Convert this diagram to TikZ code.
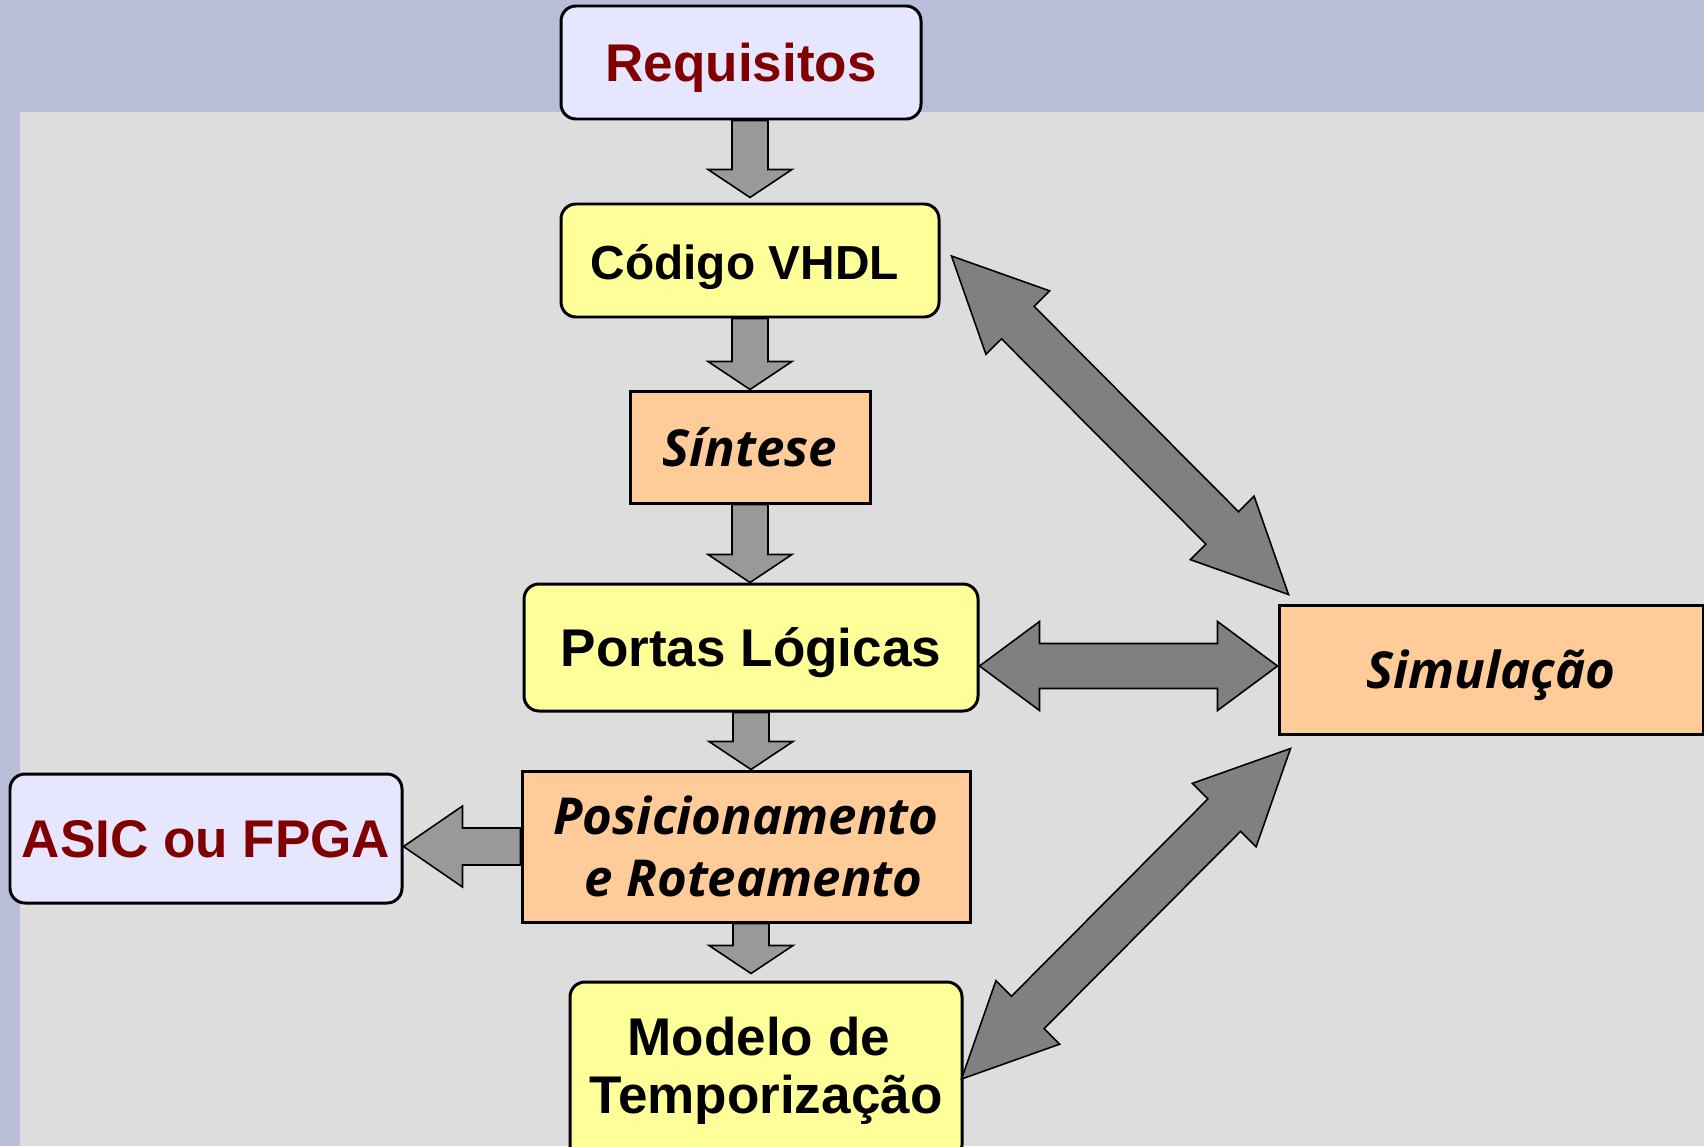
\documentclass[tikz,border=0pt]{standalone}
\usepackage{fontspec}
\setmainfont{Liberation Sans}
\newfontfamily\itsans{Open Sans}
\usetikzlibrary{calc}

\definecolor{band}{HTML}{B8BDD8}
\definecolor{backgr}{HTML}{DDDDDD}
\definecolor{lav}{HTML}{E6E6FF}
\definecolor{darkred}{HTML}{800000}
\definecolor{yel}{HTML}{FFFF99}
\definecolor{orng}{HTML}{FFCC99}
\definecolor{lightarrow}{HTML}{999999}
\definecolor{darkarrow}{HTML}{808080}

\tikzset{
  shaftw/.store in=\shaftw, headw/.store in=\headw, headl/.store in=\headl,
  shaftw=0.18cm, headw=0.42cm, headl=0.28cm,
  % block arrow with one head
  onearrow/.style={draw=black, line width=0.45pt, fill=#1, to path={
      let \p1=($(\tikztotarget)!\headl!(\tikztostart)$) in
      ($(\tikztostart)!\shaftw!90:(\tikztotarget)$) -- ($(\p1)!\shaftw!90:(\tikztotarget)$)
      -- ($(\p1)!\headw!90:(\tikztotarget)$) -- (\tikztotarget)
      -- ($(\p1)!\headw!-90:(\tikztotarget)$) -- ($(\p1)!\shaftw!-90:(\tikztotarget)$)
      -- ($(\tikztostart)!\shaftw!-90:(\tikztotarget)$) -- cycle}},
  % block arrow with two heads
  twoarrow/.style={draw=black, line width=0.45pt, fill=darkarrow, to path={
      let \p1=($(\tikztostart)!\headl!(\tikztotarget)$),
          \p2=($(\tikztotarget)!\headl!(\tikztostart)$) in
      (\tikztostart) -- ($(\p1)!\headw!90:(\tikztotarget)$) -- ($(\p1)!\shaftw!90:(\tikztotarget)$)
      -- ($(\p2)!\shaftw!90:(\tikztotarget)$) -- ($(\p2)!\headw!90:(\tikztotarget)$)
      -- (\tikztotarget)
      -- ($(\p2)!\headw!-90:(\tikztotarget)$) -- ($(\p2)!\shaftw!-90:(\tikztotarget)$)
      -- ($(\p1)!\shaftw!-90:(\tikztotarget)$) -- ($(\p1)!\headw!-90:(\tikztotarget)$) -- cycle}},
  box/.style={draw=black, line width=0.85pt, inner sep=0pt, align=center},
  oneline/.style={text height=0.38cm, text depth=0pt},
  roundbox/.style={box, rounded corners=0.15cm,
      font=\bfseries\fontsize{15.1pt}{16.5pt}\selectfont},
  stepbox/.style={box, fill=orng, font=\itsans\bfseries\itshape\fontsize{14.5pt}{17.6pt}\selectfont}
}

\begin{document}
\begin{tikzpicture}[
            semithick % line style
        ]
\useasboundingbox (0,0) rectangle (17.04,-11.46);
\clip (0,0) rectangle (17.04,-11.46);
% background
\fill[band] (0,0) rectangle (17.04,-11.46);
\fill[backgr] (0.20,-1.12) rectangle (17.04,-11.46);

\node[roundbox, oneline, fill=lav, text=darkred, minimum width=3.60cm, minimum height=1.13cm] (R) at (7.41,-0.625) {Requisitos};
\node[roundbox, oneline, fill=yel, minimum width=3.78cm, minimum height=1.13cm, font=\bfseries\fontsize{13.6pt}{16pt}\selectfont] (V) at (7.50,-2.605) {Código VHDL\hspace*{0.22em}};
\node[stepbox, oneline, minimum width=2.40cm, minimum height=1.12cm] (S) at (7.50,-4.47) {Síntese};
\node[roundbox, oneline, fill=yel, minimum width=4.54cm, minimum height=1.27cm] (P) at (7.51,-6.475) {Portas Lógicas};
\node[stepbox, minimum width=4.48cm, minimum height=1.51cm, yshift=-0.02cm] (PR) at (7.46,-8.445) {Posicionamento\\\hspace*{0.3em}e Roteamento};
\node[roundbox, oneline, fill=lav, text=darkred, minimum width=3.92cm, minimum height=1.29cm] (A) at (2.06,-8.385) {ASIC ou FPGA};
\node[roundbox, minimum width=3.92cm, minimum height=1.78cm, fill=yel] (M) at (7.66,-10.71) {Modelo de\hspace*{0.27em}\\Temporização};
\node[stepbox, oneline, minimum width=4.24cm, minimum height=1.29cm] (Sim) at (14.91,-6.695) {Simulação};

 \path (R.south -| V.north) edge[onearrow=lightarrow] ([yshift=0.05cm]V.north);
 \path (V.south) edge[onearrow=lightarrow] (S.north);
 \path (S.south) edge[onearrow=lightarrow] (S.south |- P.north);
 \path (P.south) edge[onearrow=lightarrow] (P.south |- PR.north);
 \path (PR.south -| P.south) edge[onearrow=lightarrow] ([yshift=0.07cm]P.south |- M.north);
 \path (PR.west) edge[onearrow=lightarrow, shaftw=0.185cm, headw=0.405cm, headl=0.59cm] (A.east |- PR.west);
 \path ([yshift=0.035cm]P.east |- Sim.west) edge[twoarrow, shaftw=0.225cm, headw=0.445cm, headl=0.60cm] ([yshift=0.035cm]Sim.west);
 \path ([shift={(0.11,0.045)}]V.east) edge[twoarrow, shaftw=0.23cm, headw=0.45cm, headl=0.94cm] ([shift={(0.11,0.09)}]Sim.north west);
 \path ([shift={(0.13,-0.13)}]Sim.south west) edge[twoarrow, shaftw=0.23cm, headw=0.45cm, headl=0.94cm] ([shift={(-0.02,-0.08)}]M.east);
\end{tikzpicture}
\end{document}
